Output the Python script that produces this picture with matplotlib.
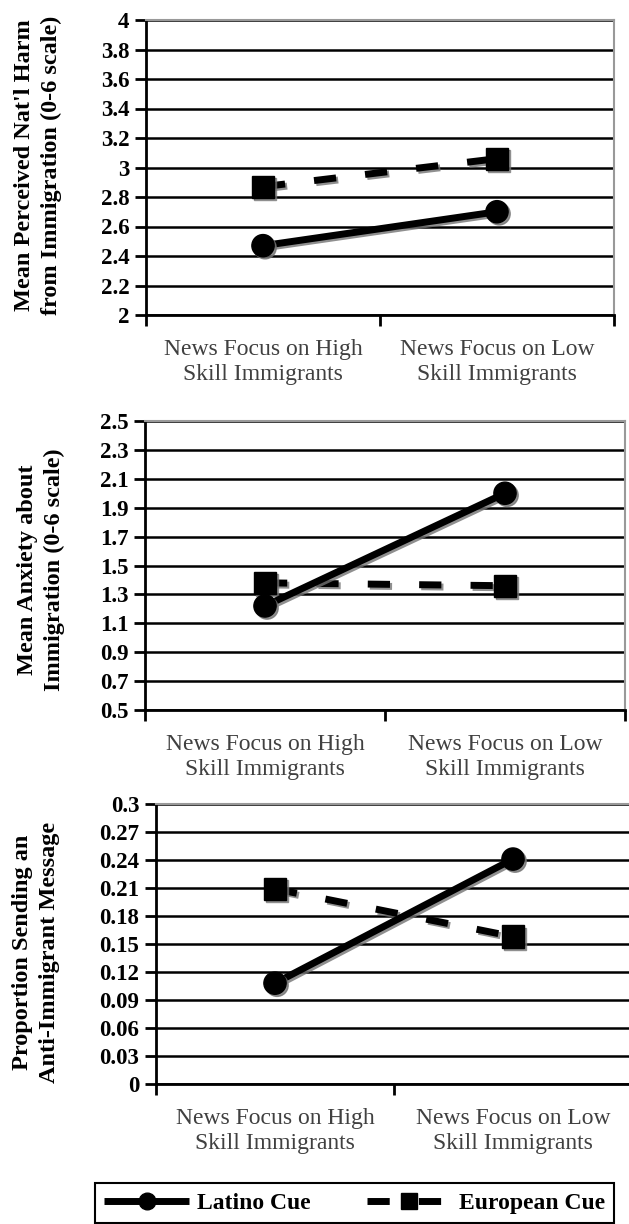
import matplotlib
matplotlib.use('Agg')
import matplotlib.pyplot as plt
import matplotlib.patheffects as pe
from matplotlib.lines import Line2D

plt.rcParams['font.family'] = ['Liberation Serif', 'DejaVu Serif']

# data
categories = ['News Focus on High\nSkill Immigrants', 'News Focus on Low\nSkill Immigrants']
series_names = ['Latino Cue', 'European Cue']

harm_latino = [2.47, 2.70]
harm_european = [2.87, 3.06]
harm_ticks = [2, 2.2, 2.4, 2.6, 2.8, 3, 3.2, 3.4, 3.6, 3.8, 4]
harm_ticklabels = ['2', '2.2', '2.4', '2.6', '2.8', '3', '3.2', '3.4', '3.6', '3.8', '4']

anx_latino = [1.22, 2.00]
anx_european = [1.38, 1.36]
anx_ticks = [0.5, 0.7, 0.9, 1.1, 1.3, 1.5, 1.7, 1.9, 2.1, 2.3, 2.5]
anx_ticklabels = ['0.5', '0.7', '0.9', '1.1', '1.3', '1.5', '1.7', '1.9', '2.1', '2.3', '2.5']

prop_latino = [0.108, 0.241]
prop_european = [0.209, 0.158]
prop_ticks = [0, 0.03, 0.06, 0.09, 0.12, 0.15, 0.18, 0.21, 0.24, 0.27, 0.3]
prop_ticklabels = ['0', '0.03', '0.06', '0.09', '0.12', '0.15', '0.18', '0.21', '0.24', '0.27', '0.3']

ylabels = ["Mean Perceived Nat'l Harm\nfrom Immigration (0-6 scale)",
           "Mean Anxiety about\nImmigration (0-6 scale)",
           "Proportion Sending an\nAnti-Immigrant Message"]

W, H = 629, 1224
fig = plt.figure(figsize=(W/100, H/100), dpi=100)

def rect(l, r, t, b):
    return [l/W, 1-b/H, (r-l)/W, (b-t)/H]

shadow = [pe.SimpleLineShadow(offset=(1.5, -1.5), shadow_color='0.45', alpha=0.8),
          pe.SimplePatchShadow(offset=(1.5, -1.5), shadow_rgbFace='0.45', alpha=0.8),
          pe.Normal()]

latino_style = dict(color='black', lw=5, marker='o', ms=16, solid_capstyle='butt')
euro_style = dict(color='black', lw=5, marker='s', ms=16, ls=(0, (3.2, 4.2)), dash_capstyle='butt')

panels = [
    (rect(146, 614, 20, 315), harm_latino, harm_european, harm_ticks, harm_ticklabels, (38, 165)),
    (rect(145, 625, 421, 710), anx_latino, anx_european, anx_ticks, anx_ticklabels, (41, 570)),
    (rect(156, 632, 804, 1084), prop_latino, prop_european, prop_ticks, prop_ticklabels, (36, 952)),
]

xpos = [0.5, 1.5]
for i, (pos, lat, eur, yt, ytl, lab_xy) in enumerate(panels):
    ax = fig.add_axes(pos)
    ax.plot(xpos, eur, path_effects=shadow, zorder=3, **euro_style)
    ax.plot(xpos, lat, path_effects=shadow, zorder=4, **latino_style)
    ax.set_xlim(0, 2)
    ax.set_ylim(yt[0], yt[-1])
    ax.set_yticks(yt)
    ax.set_yticklabels(ytl, fontsize=16.5, fontweight='bold')
    ax.yaxis.grid(True, color='black', lw=1.8)
    ax.set_xticks([0, 1, 2])
    ax.set_xticklabels([])
    ax.set_xticks(xpos, minor=True)
    ax.set_xticklabels(categories, minor=True, fontsize=17, color='0.25', linespacing=1.25)
    ax.tick_params(axis='x', which='minor', length=0, pad=17)
    ax.tick_params(axis='x', which='major', length=8, width=2, direction='out')
    ax.tick_params(axis='y', length=8, width=2, direction='out', pad=4)
    for s in ['left', 'bottom']:
        ax.spines[s].set_linewidth(2)
        ax.spines[s].set_color('black')
    for s in ['top', 'right']:
        ax.spines[s].set_linewidth(1.5)
        ax.spines[s].set_color('0.6')
    fig.text(lab_xy[0]/W, 1-lab_xy[1]/H, ylabels[i], rotation=90, ha='center', va='center',
             multialignment='center', fontsize=17.5, fontweight='bold', linespacing=1.35)

handles = [Line2D([], [], **latino_style), Line2D([], [], **euro_style)]
leg = fig.legend(handles, series_names, loc='upper left', bbox_to_anchor=(95/W, 1-1183/H),
                 ncol=2, frameon=True, fancybox=False, edgecolor='black', framealpha=1,
                 handlelength=3.6, handletextpad=0.3, markerscale=0.75, columnspacing=2.4,
                 borderaxespad=0,
                 prop={'family': 'Liberation Serif', 'weight': 'bold', 'size': 17})
leg.get_frame().set_linewidth(1.5)

fig.savefig('out.png', dpi=100)
